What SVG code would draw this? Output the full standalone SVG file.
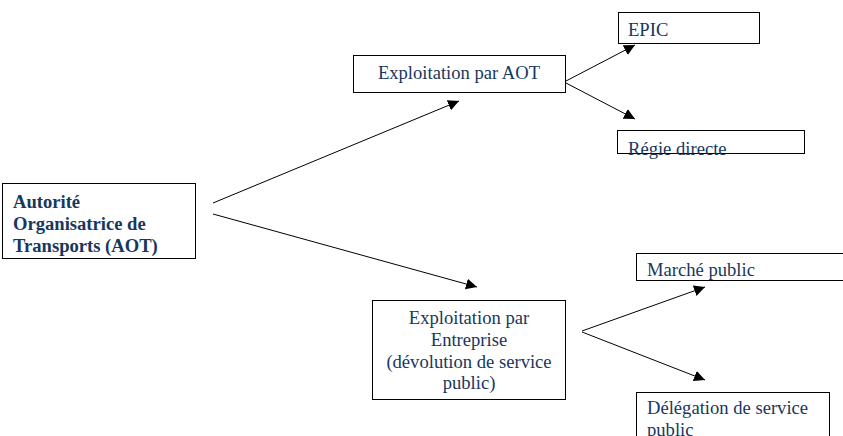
<svg xmlns="http://www.w3.org/2000/svg" width="843" height="436" viewBox="0 0 843 436">
<style>
.box{fill:#fff;stroke:#000;stroke-width:1}
.t{font-family:"Liberation Serif","Times New Roman",serif;font-size:18.6px;fill:#17375e}
.b{font-weight:bold}
.c{text-anchor:middle}
.ln{stroke:#000;stroke-width:1;fill:none;marker-end:url(#ah)}
</style>
<defs>
<marker id="ah" viewBox="0 0 10 10" refX="10" refY="5" markerWidth="11" markerHeight="11" markerUnits="userSpaceOnUse" orient="auto">
<path d="M0,0 L10,5 L0,10 z" fill="#000"/>
</marker>
</defs>
<g id="connectors">
<line class="ln" x1="213" y1="203" x2="459" y2="101"/>
<line class="ln" x1="213" y1="214" x2="477" y2="287"/>
<line class="ln" x1="566" y1="81" x2="635" y2="45"/>
<line class="ln" x1="566" y1="83" x2="635" y2="119"/>
<line class="ln" x1="582" y1="331" x2="705" y2="287"/>
<line class="ln" x1="582" y1="332" x2="705" y2="380"/>
</g>
<g id="aot">
<rect class="box" x="2.5" y="183.5" width="193" height="75"/>
<text class="t b" x="13" y="208">Autorité</text>
<text class="t b" x="13" y="230">Organisatrice de</text>
<text class="t b" x="13" y="252">Transports (AOT)</text>
</g>
<g id="exploitation-aot">
<rect class="box" x="353.5" y="55.5" width="212" height="37"/>
<text class="t c" x="459" y="79">Exploitation par AOT</text>
</g>
<g id="epic">
<rect class="box" x="618.5" y="12.5" width="141" height="31"/>
<text class="t" x="628" y="36">EPIC</text>
</g>
<g id="regie">
<rect class="box" x="617.5" y="130.5" width="187" height="23"/>
<text class="t" x="628" y="155">Régie directe</text>
</g>
<g id="exploitation-entreprise">
<rect class="box" x="372.5" y="300.5" width="193" height="99"/>
<text class="t c" x="469" y="324">Exploitation par</text>
<text class="t c" x="469" y="346">Entreprise</text>
<text class="t c" x="469" y="368">(dévolution de service</text>
<text class="t c" x="469" y="389">public)</text>
</g>
<g id="marche">
<rect class="box" x="636.5" y="253.5" width="220" height="27"/>
<text class="t" x="647" y="276">Marché public</text>
</g>
<g id="delegation">
<rect class="box" x="636.5" y="392.5" width="193" height="60"/>
<text class="t" x="647" y="414">Délégation de service</text>
<text class="t" x="647" y="436">public</text>
</g>
</svg>
